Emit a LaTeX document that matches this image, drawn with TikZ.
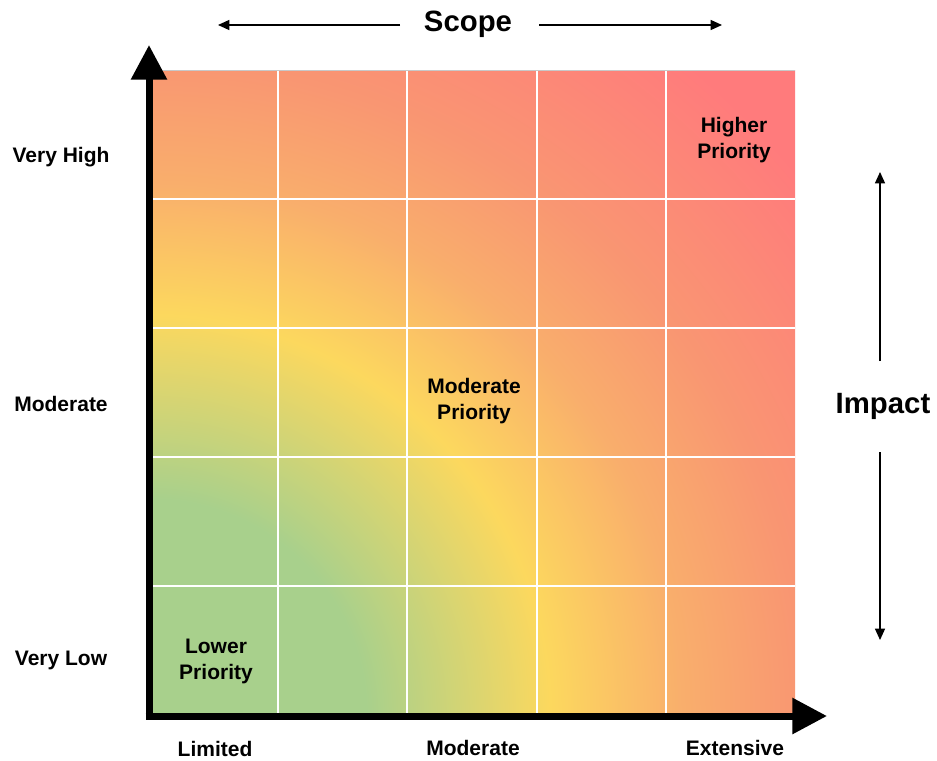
\documentclass[tikz,border=0pt]{standalone}
\usepackage{fontspec}
\setmainfont{Liberation Sans}
\usetikzlibrary{arrows.meta}
\definecolor{cg}{HTML}{A8D08C}
\definecolor{cy}{HTML}{FCD85E}
\definecolor{co}{HTML}{F9AE6C}
\definecolor{cs}{HTML}{F99672}
\definecolor{cr}{HTML}{FF7B7C}
\definecolor{gridtop}{HTML}{C8C8C8}
\pgfdeclareradialshading{heat}{\pgfpointorigin}{color(0bp)=(cg); color(5.9bp)=(cg); color(10.9bp)=(cy); color(14.5bp)=(co); color(17.75bp)=(cs); color(23bp)=(cr); color(50bp)=(cr)}
\tikzset{
  lab/.style={font=\bfseries\fontsize{15.75}{19.5}\selectfont, align=center, inner sep=0pt},
  title/.style={font=\bfseries\fontsize{22}{26}\selectfont, inner sep=0pt},
  axis/.style={line width=5.25pt, -{Triangle[length=26pt,width=26pt]}},
  thin/.style={line width=0.95pt, -{Triangle[length=8.5pt,width=7.5pt]}},
  gridline/.style={white, line width=1.6pt}
}
\begin{document}
\begin{tikzpicture}[x=0.75pt,y=-0.75pt]
\useasboundingbox (0,0) rectangle (937,760);
% heat map
\begin{scope}
  \clip (149,70) rectangle (795,716);
  \shade[shading=heat] (149,716) circle (920);
\end{scope}
\foreach \gx in {278,407,537,666} \draw[gridline] (\gx,70) -- (\gx,714);
\foreach \gy in {199,328,457,586} \draw[gridline] (150,\gy) -- (795,\gy);
\draw[gridtop, line width=1pt] (150,70.5) -- (795,70.5);
% axes
\coordinate (o) at (149,716);
\coordinate (ytip) at (149,45);
\coordinate (xtip) at (827,716);
\coordinate (o1) at (149,719.5);
\coordinate (o2) at (145.5,716);
\draw[axis] (o1) -- (ytip);
\draw[axis] (o2) -- (xtip);
% scope title
\node[title] (scope) at (468,24) {Scope};
\coordinate (sl) at (218,25);
\coordinate (sr) at (722,25);
\coordinate (sla) at (400,25);
\coordinate (sra) at (539,25);
\draw[thin] (sla) -- (sl);
\draw[thin] (sra) -- (sr);
% impact title
\node[title] (impact) at (883,406) {Impact};
\coordinate (iu) at (880,172);
\coordinate (id) at (880,640);
\coordinate (iua) at (880,361);
\coordinate (ida) at (880,452);
\draw[thin] (iua) -- (iu);
\draw[thin] (ida) -- (id);
% y labels
\node[lab] (vh) at (61,157) {Very High};
\node[lab] (ym) at (61,404) {Moderate};
\node[lab] (vl) at (61,660) {Very Low};
% x labels
\node[lab] (lim) at (215,749) {Limited};
\node[lab] (xm) at (473,748) {Moderate};
\node[lab] (ext) at (735,748) {Extensive};
% priorities
\node[lab] (hp) at (734,140) {Higher\\Priority};
\node[lab] (mp) at (474,401) {Moderate\\Priority};
\node[lab] (lp) at (216,661) {Lower\\Priority};
\end{tikzpicture}
\end{document}
